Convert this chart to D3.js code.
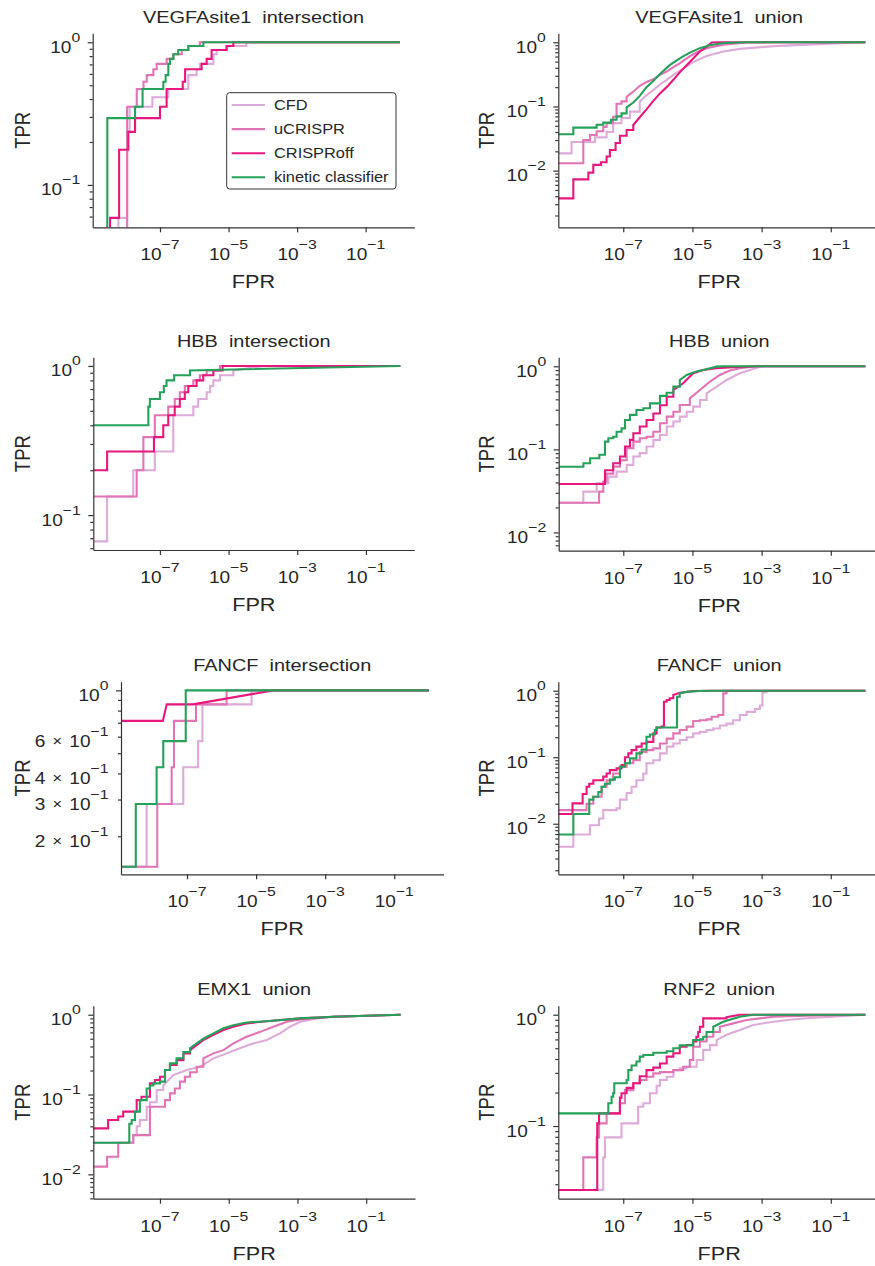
<!DOCTYPE html>
<html>
<head>
<meta charset="utf-8">
<script src="https://cdnjs.cloudflare.com/ajax/libs/d3/7.8.5/d3.min.js"></script>
<style>
  body { margin: 0; background: #fff; }
  text { font-family: "Liberation Sans", Arial, Helvetica, sans-serif; fill: #262626; white-space: pre; }
</style>
</head>
<body>
<svg id="fig" width="875" height="1266"></svg>
<script>
// ---- data (each point: [FPR, TPR], a 3rd entry 1 = straight segment) ----
const methods = ["CFD", "uCRISPR", "CRISPRoff", "kinetic classifier"];
const colors = ["#ddaad9", "#e174b4", "#e8177d", "#25a15a"];
const titles = ["VEGFAsite1  intersection", "VEGFAsite1  union", "HBB  intersection", "HBB  union",
  "FANCF  intersection", "FANCF  union", "EMX1  union", "RNF2  union"];
const xTicks = [1e-7, 1e-5, 1e-3, 1e-1];
const fancfIntLabels = [0.2, 0.3, 0.4, 0.6];

// VEGFAsite1 intersection
const vegfaInt = [
  [[6.1e-9,0],[6.1e-9,0.0588],[1.1e-8,0.2353],[1.3e-8,0.3529],[6.0e-8,0.4118],[1.75e-7,0.4706],[6.7e-7,0.5882],[1.17e-6,0.6471],[1.46e-6,0.7059],[3.6e-6,0.8235],[4.5e-6,0.8824],[8.7e-6,0.9412],[3.3e-5,1],[1,1]],
  [[1.1e-8,0],[1.1e-8,0.3529],[2.1e-8,0.4706],[3.3e-8,0.5294],[4.1e-8,0.5882],[6.4e-8,0.6471],[8.0e-8,0.7059],[1.56e-7,0.7647],[2.45e-7,0.8235],[4.3e-7,0.8824],[6.7e-7,0.9412],[1.46e-6,1],[1,1]],
  [[3.5e-9,0],[3.5e-9,0.0588],[6.4e-9,0.1765],[1.19e-8,0.2353],[1.87e-8,0.2941],[1e-7,0.3529],[1.56e-7,0.4706],[4.6e-7,0.5294],[5.4e-7,0.6471],[1.64e-6,0.7059],[2.3e-6,0.7647],[3.2e-6,0.8824],[8.8e-6,0.9412],[1.38e-5,1],[1,1]],
  [[2.9e-9,0],[2.9e-9,0.2941],[1.87e-8,0.3529],[3.1e-8,0.4706],[1.25e-7,0.5294],[1.46e-7,0.5882],[1.75e-7,0.7059],[1.96e-7,0.7647],[2.45e-7,0.8235],[3.4e-7,0.8824],[6.7e-7,0.9412],[1.84e-6,1],[1,1]]
];
// VEGFAsite1 union
const vegfaUni = [
  [[0,0.0186],[3.2e-9,0.028],[1.52e-8,0.033],[3.3e-8,0.04],[5.1e-8,0.055],[8.9e-8,0.066],[1.56e-7,0.083],[3.0e-7,0.119],[4.7e-7,0.15,1],[7.4e-7,0.18,1],[1.15e-6,0.22,1],[1.8e-6,0.26,1],[2.8e-6,0.31,1],[4.3e-6,0.36,1],[6.8e-6,0.42,1],[1.05e-5,0.49,1],[2.56e-5,0.61,1],[7.8e-5,0.72,1],[2.35e-4,0.79,1],[2.2e-3,0.87,1],[0.02,0.92,1],[1,1,1]],
  [[0,0.013],[7.0e-9,0.030],[1.1e-8,0.036],[1.7e-8,0.041],[2.64e-8,0.048],[3.3e-8,0.055],[5.1e-8,0.069],[6.4e-8,0.11],[8.9e-8,0.12],[1.25e-7,0.142],[1.95e-7,0.17,1],[3.0e-7,0.21,1],[4.7e-7,0.24,1],[7.4e-7,0.265,1],[1.15e-6,0.31,1],[1.8e-6,0.35,1],[2.8e-6,0.41,1],[4.3e-6,0.47,1],[6.8e-6,0.56,1],[1.05e-5,0.65,1],[1.64e-5,0.73,1],[2.56e-5,0.81,1],[7.8e-5,0.92,1],[3.7e-4,0.99,1],[2.2e-3,1,1],[1,1,1]],
  [[0,0.0037],[3.6e-9,0.0073],[9.8e-9,0.0093],[1.36e-8,0.0123],[2.26e-8,0.0135],[3.3e-8,0.0166],[4.1e-8,0.021],[6.0e-8,0.027],[8.0e-8,0.035],[1.25e-7,0.043],[1.95e-7,0.0515],[3.0e-7,0.068,1],[4.7e-7,0.09,1],[7.4e-7,0.122,1],[1.15e-6,0.16,1],[1.8e-6,0.2,1],[2.8e-6,0.26,1],[4.3e-6,0.34,1],[6.8e-6,0.44,1],[1.05e-5,0.56,1],[1.64e-5,0.72,1],[2.56e-5,0.85,1],[3.6e-5,0.99,1],[6.2e-5,1,1],[1,1,1]],
  [[0,0.0368],[3.6e-9,0.0468],[1.7e-8,0.052],[2.64e-8,0.056],[4.4e-8,0.062],[6.4e-8,0.07],[8.9e-8,0.078],[1.25e-7,0.097],[1.95e-7,0.115,1],[3.0e-7,0.146,1],[4.7e-7,0.2,1],[7.4e-7,0.25,1],[1.15e-6,0.32,1],[2.2e-6,0.44,1],[4.3e-6,0.56,1],[8.4e-6,0.69,1],[1.64e-5,0.81,1],[3.2e-5,0.9,1],[7.8e-5,0.975,1],[3.7e-4,1,1],[1,1,1]]
];
// HBB intersection
const hbbInt = [
  [[0,0.0667],[2.9e-9,0.1333],[1.67e-8,0.2],[7.1e-8,0.2667],[2.45e-7,0.4667],[9.4e-7,0.5333],[1.3e-6,0.6],[2.3e-6,0.6667],[2.9e-6,0.7333],[3.6e-6,0.8],[5.6e-6,0.8667],[1.37e-5,0.9333],[1.0e-4,1,1],[1,1]],
  [[0,0.1333],[2.1e-8,0.2],[3.3e-8,0.3333],[7.1e-8,0.4667],[1.75e-7,0.5333],[2.7e-7,0.6],[3.8e-7,0.6667],[5.3e-7,0.7333],[9.4e-7,0.8],[1.46e-6,0.8667],[2.3e-6,0.9333],[5.6e-6,1],[1,1]],
  [[0,0.2],[2.9e-9,0.2667],[6.7e-8,0.3333],[1.25e-7,0.4],[1.75e-7,0.4667],[2.7e-7,0.5333],[3.8e-7,0.6],[5.3e-7,0.6667],[6.7e-7,0.7333],[1.17e-6,0.8],[1.83e-6,0.8667],[3.6e-6,0.9333],[6.7e-6,1],[1,1]],
  [[0,0.4],[4.6e-8,0.5333],[5.1e-8,0.6],[1e-7,0.6667],[1.3e-7,0.7333],[1.56e-7,0.8],[2.6e-7,0.8667],[7.5e-7,0.9333],[1,1,1]]
];
// HBB union
const hbbUni = [
  [[0,0.0228],[7.0e-9,0.031],[1.7e-8,0.039],[3.7e-8,0.047],[6.4e-8,0.054],[1.25e-7,0.065],[1.95e-7,0.082],[3.0e-7,0.09],[4.7e-7,0.108],[7.4e-7,0.13],[1.15e-6,0.149],[1.8e-6,0.188],[2.8e-6,0.216],[4.3e-6,0.248],[6.8e-6,0.284],[1.05e-5,0.327],[1.64e-5,0.393],[2.56e-5,0.473],[5.0e-5,0.569,1],[9.7e-5,0.684,1],[2.35e-4,0.824,1],[4.6e-4,0.903,1],[8.9e-4,0.99,1],[1.4e-3,1,1],[1,1]],
  [[0,0.0228],[2.0e-8,0.031],[2.64e-8,0.041],[3.3e-8,0.051],[5.1e-8,0.062],[8.0e-8,0.074],[1.25e-7,0.103],[1.95e-7,0.124],[3.0e-7,0.136],[4.7e-7,0.142],[7.4e-7,0.163],[1.15e-6,0.206],[1.8e-6,0.248],[2.8e-6,0.284],[4.3e-6,0.342],[8.4e-6,0.411],[1.64e-5,0.519,1],[3.2e-5,0.653,1],[6.2e-5,0.787,1],[1.2e-4,0.887,1],[2.35e-4,0.946,1],[7.1e-4,1,1],[1,1]],
  [[0,0.0382],[2.95e-8,0.056],[5.1e-8,0.068],[8.0e-8,0.082],[1.12e-7,0.108],[1.56e-7,0.13],[1.95e-7,0.156],[3.0e-7,0.188],[4.7e-7,0.226],[7.4e-7,0.27],[1.15e-6,0.34],[1.8e-6,0.43],[2.8e-6,0.52],[5.4e-6,0.624,1],[1.05e-5,0.824,1],[2.05e-5,0.903,1],[5.0e-5,0.946,1],[1.5e-4,0.973,1],[7.1e-4,1,1],[1,1]],
  [[0,0.0618],[7.0e-9,0.068],[1.1e-8,0.078],[2.03e-8,0.086],[2.95e-8,0.124],[3.7e-8,0.136],[5.1e-8,0.142],[6.4e-8,0.163],[8.9e-8,0.179],[1.12e-7,0.226],[1.56e-7,0.26],[2.4e-7,0.298],[3.8e-7,0.312],[5.9e-7,0.358],[1.15e-6,0.44],[1.8e-6,0.48],[2.8e-6,0.569],[4.3e-6,0.684],[6.8e-6,0.787,1],[1.3e-5,0.863,1],[2.05e-5,0.903,1],[5.0e-5,0.99,1],[7.8e-5,1,1],[1,1]]
];
// FANCF intersection
const fancfInt = [
  [[0,0.1429],[6.8e-9,0.2857],[7.8e-8,0.4286],[2.1e-7,0.5714],[2.8e-7,0.8571],[7.4e-6,1],[1,1]],
  [[0,0.1429],[1.38e-8,0.2857],[3.6e-8,0.4286],[4.2e-8,0.7143],[1.82e-7,0.8571],[1.4e-6,1],[1,1]],
  [[0,0.7143],[2.0e-8,0.7143],[2.6e-8,0.8571,1],[1.5e-7,0.8571],[3.2e-5,1,1],[1,1]],
  [[0,0.1429],[3.3e-9,0.2857],[1.32e-8,0.4286],[2.06e-8,0.5714],[9.2e-8,1],[1,1]]
];
// FANCF union
const fancfUni = [
  [[0,0.0045],[3.6e-9,0.0069],[1.09e-8,0.0095],[2.0e-8,0.012],[2.64e-8,0.016],[6.4e-8,0.017],[8.0e-8,0.023],[1.25e-7,0.029],[1.74e-7,0.036],[2.4e-7,0.045],[3.8e-7,0.057],[4.7e-7,0.081],[7.4e-7,0.09],[1.15e-6,0.114],[1.8e-6,0.144],[2.8e-6,0.161],[4.3e-6,0.181],[6.8e-6,0.2],[1.05e-5,0.228],[1.64e-5,0.24],[2.56e-5,0.256],[4.0e-5,0.27],[6.2e-5,0.3],[9.7e-5,0.32],[1.5e-4,0.36],[2.35e-4,0.43],[3.7e-4,0.48],[6.4e-4,0.53],[8.9e-4,0.6],[1.06e-3,0.95],[1.4e-3,1],[1,1]],
  [[0,0.016],[8.7e-9,0.02],[1.36e-8,0.0255],[2.37e-8,0.036],[3.3e-8,0.045],[5.1e-8,0.057],[8.0e-8,0.072],[1.25e-7,0.081],[1.95e-7,0.09],[3.0e-7,0.12],[4.7e-7,0.128],[7.4e-7,0.136],[1.15e-6,0.161],[1.8e-6,0.19],[2.8e-6,0.228],[4.3e-6,0.256],[6.8e-6,0.288],[1.05e-5,0.35],[1.64e-5,0.36],[2.56e-5,0.37],[3.6e-5,0.406],[5.6e-5,0.43],[7.8e-5,0.91],[9.7e-5,1],[1,1]],
  [[0,0.014],[3.4e-9,0.0202],[6.7e-9,0.028],[8.7e-9,0.036],[1.04e-8,0.04],[1.36e-8,0.045],[2.64e-8,0.051],[3.3e-8,0.057],[4.1e-8,0.064],[6.4e-8,0.068],[8.9e-8,0.076],[1.12e-7,0.1],[1.4e-7,0.114],[1.74e-7,0.128],[2.4e-7,0.144],[3.4e-7,0.161],[4.7e-7,0.17],[7.4e-7,0.228],[9.2e-7,0.28],[1.28e-6,0.29],[1.5e-6,0.68],[1.8e-6,0.724],[2.2e-6,0.77],[2.8e-6,0.86],[4.3e-6,0.93,1],[1.05e-5,0.99,1],[2.56e-5,1,1],[1,1]],
  [[0,0.0069],[3.6e-9,0.014],[1.04e-8,0.023],[1.36e-8,0.0255],[1.9e-8,0.03],[2.37e-8,0.036],[2.95e-8,0.04],[4.1e-8,0.046],[5.7e-8,0.05],[8.0e-8,0.072],[1.12e-7,0.081],[1.56e-7,0.096],[2.4e-7,0.114],[3.4e-7,0.13],[4.7e-7,0.203],[5.9e-7,0.22],[8.2e-7,0.256],[9.2e-7,0.28],[3.6e-6,0.81],[4.3e-6,0.91],[6.8e-6,0.96,1],[1.64e-5,0.99,1],[4e-5,1,1],[1,1]]
];
// EMX1 union
const emx1Uni = [
  [[0,0.0249],[1.67e-8,0.031],[2.1e-8,0.04],[2.6e-8,0.048],[4.1e-8,0.07],[5.1e-8,0.08],[8.0e-8,0.114],[1.25e-7,0.13],[2.45e-7,0.175,1],[6.0e-7,0.203,1],[1.46e-6,0.223,1],[3.6e-6,0.284,1],[8.7e-6,0.328,1],[2.1e-5,0.38,1],[5.2e-5,0.4375,1],[1.28e-4,0.482,1],[3.1e-4,0.584,1],[6.1e-4,0.708,1],[1.2e-3,0.817,1],[3.7e-3,0.9,1],[0.0112,0.944,1],[1,1,1]],
  [[0,0.0125],[2.9e-9,0.0166],[6.1e-9,0.0249],[1.67e-8,0.031],[5.1e-8,0.0704],[1.4e-7,0.085],[1.95e-7,0.1035],[2.7e-7,0.119],[3.8e-7,0.145],[5.3e-7,0.167],[7.5e-7,0.19],[1.17e-6,0.223],[1.83e-6,0.284],[3.6e-6,0.328,1],[7.0e-6,0.36,1],[1.37e-5,0.4375,1],[3.3e-5,0.53,1],[8.2e-5,0.61,1],[2.0e-4,0.708,1],[4.9e-4,0.817,1],[1.2e-3,0.87,1],[0.0112,0.944,1],[1,1,1]],
  [[0,0.0377],[3.1e-9,0.048],[6.1e-9,0.053],[8.5e-9,0.061],[2.1e-8,0.085],[2.9e-8,0.094],[5.1e-8,0.138],[7.1e-8,0.152],[1e-7,0.167],[1.4e-7,0.203],[1.95e-7,0.235],[3.05e-7,0.27],[4.8e-7,0.328],[7.5e-7,0.361],[1.17e-6,0.417,1],[1.83e-6,0.482,1],[3.6e-6,0.56,1],[7.0e-6,0.643,1],[1.37e-5,0.708,1],[3.3e-5,0.779,1],[1.28e-4,0.83,1],[1.2e-3,0.9,1],[0.0112,0.944,1],[1,1,1]],
  [[0,0.0249],[1.28e-8,0.043],[1.5e-8,0.048],[1.87e-8,0.061],[2.6e-8,0.085],[4.1e-8,0.119],[5.1e-8,0.13],[6.4e-8,0.138],[1.0e-7,0.145],[1.4e-7,0.203],[1.95e-7,0.246],[3.05e-7,0.284],[4.8e-7,0.34],[7.5e-7,0.38],[1.17e-6,0.4375,1],[1.83e-6,0.5,1],[3.6e-6,0.584,1],[7.0e-6,0.675,1],[1.37e-5,0.74,1],[3.3e-5,0.8,1],[1.28e-4,0.83,1],[4.9e-4,0.87,1],[1.2e-3,0.9,1],[0.0112,0.944,1],[1,1,1]]
];
// RNF2 union
const rnf2Uni = [
  [[0,0.0266],[2.64e-8,0.0523],[2.95e-8,0.079],[8.9e-8,0.1057],[2.7e-7,0.149],[3.8e-7,0.16],[5.9e-7,0.197],[9.2e-7,0.23],[1.15e-6,0.259],[1.8e-6,0.277],[2.8e-6,0.318],[4.3e-6,0.33],[6.8e-6,0.341],[1.32e-5,0.392],[2.05e-5,0.482],[3.2e-5,0.533],[5.0e-5,0.592],[9.7e-5,0.66,1],[2.35e-4,0.728,1],[5.7e-4,0.81,1],[2.2e-3,0.865,1],[6.5e-3,0.9,1],[0.02,0.93,1],[1,1,1]],
  [[0,0.0266],[7.0e-9,0.0523],[1.7e-8,0.079],[2.0e-8,0.1057],[3.3e-8,0.13],[8.0e-8,0.16],[1.12e-7,0.21],[1.95e-7,0.242],[3.0e-7,0.259],[4.7e-7,0.277],[7.4e-7,0.297],[1.15e-6,0.305],[2.8e-6,0.318],[5.4e-6,0.341],[8.4e-6,0.392],[1.05e-5,0.516],[1.64e-5,0.575],[2.56e-5,0.634],[4.0e-5,0.7],[6.2e-5,0.78],[1.5e-4,0.836,1],[3.7e-4,0.896,1],[8.9e-4,0.927,1],[2.2e-3,0.96,1],[0.02,0.98,1],[1,1,1]],
  [[0,0.0266],[1.77e-8,0.1057],[2.0e-8,0.13],[8.0e-8,0.18],[8.9e-8,0.197],[1.25e-7,0.22],[1.95e-7,0.242],[3.0e-7,0.28],[4.7e-7,0.318],[7.4e-7,0.335],[1.15e-6,0.365],[1.8e-6,0.42],[2.8e-6,0.45],[4.3e-6,0.516],[6.8e-6,0.535],[1.05e-5,0.575],[1.3e-5,0.634],[1.47e-5,0.7],[1.64e-5,0.78],[2.05e-5,0.927],[9.7e-5,0.95],[2.35e-4,1,1],[1,1]],
  [[0,0.13],[3.7e-8,0.16],[4.6e-8,0.183],[5.1e-8,0.197],[5.5e-8,0.242],[1.25e-7,0.259],[1.4e-7,0.318],[1.74e-7,0.35],[2.4e-7,0.38],[3.0e-7,0.42],[3.8e-7,0.435],[7.4e-7,0.455],[1.8e-6,0.47],[2.8e-6,0.5],[4.3e-6,0.53],[1.05e-5,0.592],[1.64e-5,0.6],[2.05e-5,0.634],[2.56e-5,0.7],[4.0e-5,0.78],[7.8e-5,0.865,1],[2.35e-4,0.96,1],[5.7e-4,1,1],[1,1]]
];

// ---- layout: axes box [left, right, top, bottom] in px, log10 domains ----
const SX = 1.17; // glyphs in the reference are a bit wider than Arial
const panels = [
  { data: vegfaInt, box: [92.7, 414.3, 33.3, 227.3], xd: [-8.964, 0.42], yd: [-1.297, 0.063], legend: true },
  { data: vegfaUni, box: [558.3, 880, 33.3, 227.3], xd: [-8.878, 0.423], yd: [-2.883, 0.14] },
  { data: hbbInt, box: [93.3, 414.3, 357.3, 550], xd: [-8.94, 0.408], yd: [-1.234, 0.058] },
  { data: hbbUni, box: [558.7, 880, 357.3, 550.7], xd: [-8.868, 0.423], yd: [-2.22, 0.108] },
  { data: fancfInt, box: [121, 443.5, 681.7, 874.3], xd: [-8.91, 0.424], yd: [-0.881, 0.0415], minorLabels: fancfIntLabels },
  { data: fancfUni, box: [558.3, 880, 681.7, 874.3], xd: [-8.878, 0.423], yd: [-2.76, 0.135] },
  { data: emx1Uni, box: [93.3, 415, 1005.7, 1198.7], xd: [-8.94, 0.42], yd: [-2.305, 0.113] },
  { data: rnf2Uni, box: [558.3, 880, 1005.7, 1198.7], xd: [-8.878, 0.423], yd: [-1.653, 0.081] }
];

const svg = d3.select("#fig");
const axisColor = "#333";

// step path: horizontal to the new FPR, then up to the new TPR (or straight if flagged)
const stepPoints = (pts, x, y) => {
  const X = (v) => (v > 0 ? x(v) : x.range()[0] - 3000);
  const Y = (v) => (v > 0 ? y(v) : y.range()[0] + 3000);
  const out = [];
  pts.forEach((p, i) => {
    if (i > 0 && !p[2]) out.push([X(p[0]), out[out.length - 1][1]]);
    out.push([X(p[0]), Y(p[1])]);
  });
  return out;
};

const stretchText = (parent, tx, ty, str, size, anchor, rot) => {
  const tr = rot
    ? `translate(${tx},${ty}) rotate(-90) scale(1,${SX})`
    : `translate(${tx},${ty}) scale(${SX},1)`;
  return parent.append("g").attr("transform", tr)
    .append("text").attr("text-anchor", anchor).attr("font-size", size).text(str);
};

// "10^e" tick label, optionally preceded by "m ×"
const powLabel = (parent, tx, ty, exp, anchor, mant) => {
  const t = parent.append("g").attr("transform", `translate(${tx},${ty}) scale(${SX},1)`)
    .append("text").attr("text-anchor", anchor).attr("font-size", 16.3);
  t.append("tspan").text("10");
  t.append("tspan").attr("font-size", 13.5).attr("dy", -11)
    .text(exp < 0 ? "\u2212" + -exp : String(exp));
  if (mant) {
    const left = tx - t.node().getComputedTextLength() * SX;
    stretchText(parent, left - 12, ty - 1, "\u00d7", 14, "middle");
    stretchText(parent, left - 24, ty, String(mant), 16.3, "end");
  }
};

panels.forEach((p, i) => {
  const [l, r, t, b] = p.box;
  const x = d3.scaleLog().domain([10 ** p.xd[0], 10 ** p.xd[1]]).range([l, r]);
  const y = d3.scaleLog().domain([10 ** p.yd[0], 10 ** p.yd[1]]).range([b, t]);
  const g = svg.append("g");

  g.append("clipPath").attr("id", "clip" + i)
    .append("rect").attr("x", l).attr("y", t).attr("width", r - l).attr("height", b - t);

  // curves
  const lines = g.append("g").attr("clip-path", `url(#clip${i})`).attr("fill", "none");
  p.data.forEach((curve, k) => {
    lines.append("path")
      .attr("d", d3.line()(stepPoints(curve, x, y)))
      .attr("stroke", colors[k])
      .attr("stroke-width", 2.1);
  });

  // x axis
  const xa = g.append("g").attr("transform", `translate(0,${b})`)
    .call(d3.axisBottom(x).tickValues(xTicks).tickSize(5).tickSizeOuter(0).tickFormat(""));
  xTicks.forEach((v) => powLabel(g, x(v), b + 33, Math.round(Math.log10(v)), "middle"));

  // y axis: decades are major, 2..9 multiples are minor
  const all = y.ticks();
  const major = all.filter((v) => Math.abs(Math.log10(v) - Math.round(Math.log10(v))) < 1e-9);
  const minor = all.filter((v) => !major.includes(v));
  const ya = g.append("g").attr("transform", `translate(${l},0)`)
    .call(d3.axisLeft(y).tickValues(major).tickSize(5).tickSizeOuter(0).tickFormat(""));
  const ym = g.append("g").attr("transform", `translate(${l},0)`)
    .call(d3.axisLeft(y).tickValues(minor).tickSize(3).tickSizeOuter(0).tickFormat(""));
  ym.select(".domain").remove();
  major.forEach((v) => powLabel(g, l - 12.5, y(v) + 10.5, Math.round(Math.log10(v)), "end"));
  (p.minorLabels || []).forEach((v) => {
    const e = Math.floor(Math.log10(v) + 1e-9);
    powLabel(g, l - 12.5, y(v) + 10.5, e, "end", Math.round(v / 10 ** e));
  });

  [xa, ya, ym].forEach((a) => {
    a.selectAll("path,line").attr("stroke", axisColor).attr("stroke-width", 1.2);
  });

  // titles and axis names
  const cx = (l + r) / 2;
  stretchText(g, cx, t - 10.5, titles[i], 17, "middle");
  stretchText(g, cx, b + 61, "FPR", 18.5, "middle");
  stretchText(g, i % 2 === 0 ? 29.5 : 493.5, (t + b) / 2, "TPR", 18.5, "middle", true);

  if (p.legend) {
    const lg = g.append("g");
    lg.append("rect").attr("x", 226.7).attr("y", 92.7).attr("width", 169.3).attr("height", 96.3)
      .attr("rx", 3).attr("fill", "#fff").attr("stroke", "#333").attr("stroke-width", 1);
    methods.forEach((m, k) => {
      const ly = 105 + k * 24.1;
      lg.append("line").attr("x1", 231.7).attr("x2", 265).attr("y1", ly).attr("y2", ly)
        .attr("stroke", colors[k]).attr("stroke-width", 2.1);
      stretchText(lg, 274, ly + 5, m, 14, "start");
    });
  }
});
</script>
</body>
</html>
